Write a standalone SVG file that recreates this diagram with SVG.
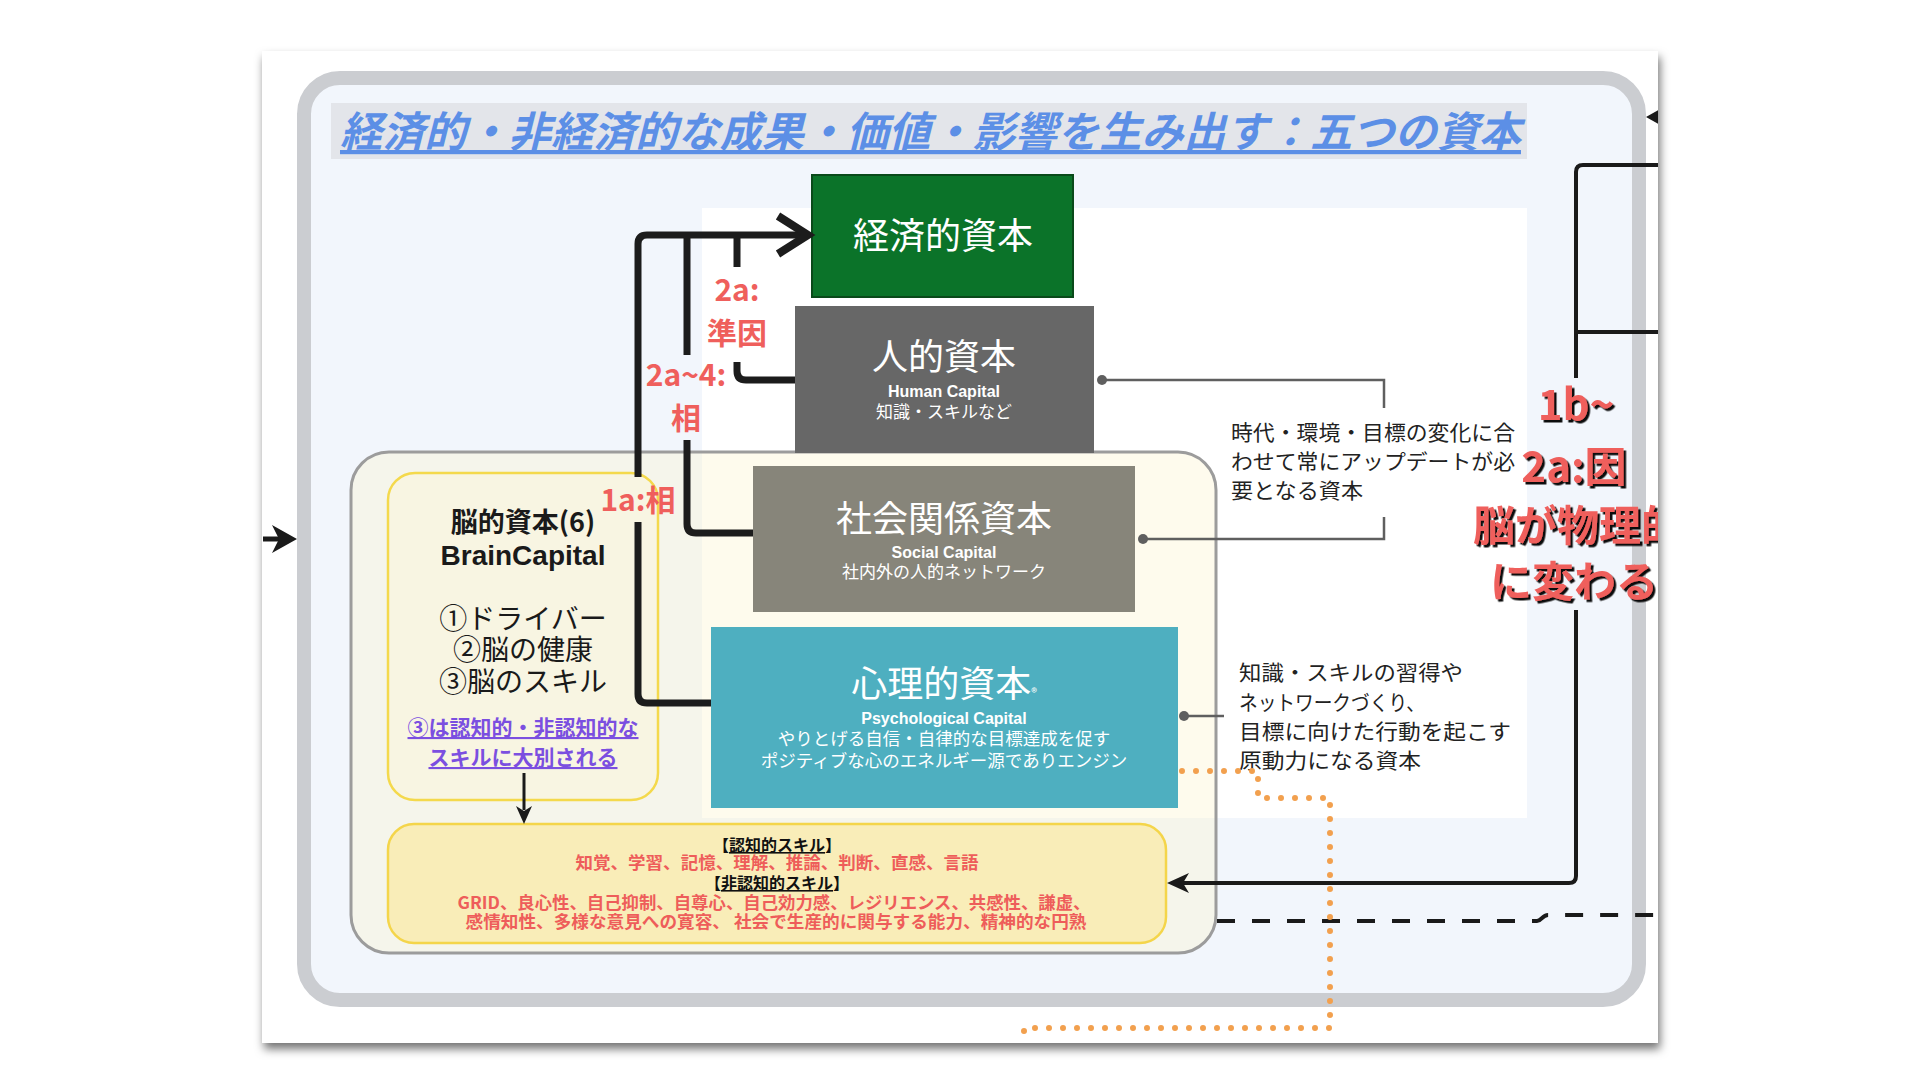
<svg xmlns="http://www.w3.org/2000/svg" width="1920" height="1080" viewBox="0 0 1920 1080">
<defs>
<style>
.jp{font-family:"Noto Sans CJK JP","Noto Sans",sans-serif}
.lat{font-family:"Liberation Sans","Noto Sans",sans-serif}
.mid{text-anchor:middle}
.wt{fill:#ffffff}
.capt{font-size:36px;font-weight:400}
.cape{font-size:16px;font-weight:700}
.capj{font-size:17.5px;font-weight:400}
.red{fill:#ef5f5c;font-weight:700}
.lbl{font-size:30px}
.big{font-size:42px}
.desc{font-size:21px;fill:#222222}
.sk{font-size:17px;font-weight:700}
.skh{fill:#111111;font-size:16px}
.skr{fill:#ee5d5a}
.thick{fill:none;stroke:#1c1c1c;stroke-width:7}
.thin{fill:none;stroke:#1a1a1a;stroke-width:4}
.gline{fill:none;stroke:#5f5f5f;stroke-width:2.5}
.gdot{fill:#5f5f5f}
</style>
<filter id="pageShadow" x="-5%" y="-5%" width="110%" height="115%">
<feDropShadow dx="2" dy="6" stdDeviation="5" flood-color="#000000" flood-opacity="0.55"/>
</filter>
<filter id="txtShadow" x="-10%" y="-10%" width="130%" height="140%">
<feDropShadow dx="2.5" dy="2.5" stdDeviation="0.6" flood-color="#000000" flood-opacity="0.95"/>
</filter>
<clipPath id="pageClip"><rect x="0" y="0" width="1658" height="1043"/></clipPath>
</defs>
<rect x="0" y="0" width="1920" height="1080" fill="#ffffff"/>
<rect id="page" x="262" y="51" width="1396" height="992" fill="#ffffff" filter="url(#pageShadow)"/>
<g clip-path="url(#pageClip)">
<g id="frame">
<rect x="304" y="78" width="1335" height="922" rx="36" fill="#f2f6fc" stroke="#cbcdd1" stroke-width="14"/>
</g>
<g id="title">
<rect x="331" y="103" width="1196" height="56" fill="#e3e5ea"/>
<text x="340" y="147" class="jp" font-size="42" font-weight="700" font-style="italic" fill="#5c8fe6" text-decoration="underline" textLength="1181" lengthAdjust="spacingAndGlyphs">経済的・非経済的な成果・価値・影響を生み出す：五つの資本</text>
</g>
<rect id="white-panel" x="702" y="208" width="825" height="610" fill="#ffffff"/>
<g id="container">
<rect x="351" y="452" width="865" height="501" rx="38" fill="#fdf3c8" fill-opacity="0.32" stroke="#9c9c9c" stroke-width="3"/>
</g>
<g id="node-brain">
<rect x="388" y="473" width="270" height="327" rx="27" fill="#f8f5e2" stroke="#f4d94c" stroke-width="2.5"/>
<text x="523" y="532" class="jp mid" font-size="27" font-weight="700" fill="#1a1a1a">脳的資本(6)</text>
<text x="523" y="565" class="lat mid" font-size="28" font-weight="700" fill="#1a1a1a">BrainCapital</text>
<text class="jp mid" font-size="28" fill="#1a1a1a"><tspan x="523" y="629">①ドライバー</tspan><tspan x="523" y="660">②脳の健康</tspan><tspan x="523" y="692">③脳のスキル</tspan></text>
<text class="jp mid" font-size="21" font-weight="700" fill="#7b4fe0" text-decoration="underline"><tspan x="523" y="735">③は認知的・非認知的な</tspan><tspan x="523" y="765">スキルに大別される</tspan></text>
</g>
<g id="node-skills">
<rect x="388" y="824" width="778" height="119" rx="26" fill="#f9edb8" stroke="#f4d54a" stroke-width="2.5"/>
<text class="jp mid sk"><tspan x="777" y="851" class="skh">【<tspan text-decoration="underline">認知的スキル</tspan>】</tspan><tspan x="777" y="869" class="skr" textLength="403" lengthAdjust="spacingAndGlyphs">知覚、学習、記憶、理解、推論、判断、直感、言語</tspan><tspan x="777" y="889" class="skh">【<tspan text-decoration="underline">非認知的スキル</tspan>】</tspan><tspan x="774" y="909" class="skr" textLength="633" lengthAdjust="spacingAndGlyphs">GRID、良心性、自己抑制、自尊心、自己効力感、レジリエンス、共感性、謙虚、</tspan><tspan x="776" y="928" class="skr" textLength="621" lengthAdjust="spacingAndGlyphs">感情知性、多様な意見への寛容、 社会で生産的に関与する能力、精神的な円熟</tspan></text>
</g>
<g id="node-economic">
<rect x="812" y="175" width="261" height="122" fill="#0b7329" stroke="#0a4a1a" stroke-width="2"/>
<text x="943" y="249" class="jp mid wt capt">経済的資本</text>
</g>
<g id="node-human">
<rect x="795" y="306" width="299" height="147" fill="#676767"/>
<text x="944" y="370" class="jp mid wt capt">人的資本</text>
<text x="944" y="397" class="lat mid wt cape">Human Capital</text>
<text x="944" y="418" class="jp mid wt" font-size="17">知識・スキルなど</text>
</g>
<g id="node-social">
<rect x="753" y="466" width="382" height="146" fill="#87857a"/>
<text x="944" y="532" class="jp mid wt capt">社会関係資本</text>
<text x="944" y="558" class="lat mid wt cape">Social Capital</text>
<text x="944" y="578" class="jp mid wt" font-size="17">社内外の人的ネットワーク</text>
</g>
<g id="node-psych">
<rect x="711" y="627" width="467" height="181" fill="#4eafc0"/>
<text x="944" y="697" class="jp mid wt capt">心理的資本<tspan font-size="12">®</tspan></text>
<text x="944" y="724" class="lat mid wt cape">Psychological Capital</text>
<text class="jp mid wt capj"><tspan x="944" y="745">やりとげる自信・自律的な目標達成を促す</tspan><tspan x="944" y="767">ポジティブな心のエネルギー源でありエンジン</tspan></text>
</g>
<g id="note-update">
<text class="jp desc"><tspan x="1231" y="440" textLength="284" lengthAdjust="spacingAndGlyphs">時代・環境・目標の変化に合</tspan><tspan x="1231" y="469" textLength="284" lengthAdjust="spacingAndGlyphs">わせて常にアップデートが必</tspan><tspan x="1231" y="498" textLength="132" lengthAdjust="spacingAndGlyphs">要となる資本</tspan></text>
</g>
<g id="note-motive">
<text class="jp desc" font-size="22.5"><tspan x="1239" y="680" textLength="224" lengthAdjust="spacingAndGlyphs">知識・スキルの習得や</tspan><tspan x="1239" y="710" textLength="186" lengthAdjust="spacingAndGlyphs">ネットワークづくり、</tspan><tspan x="1239" y="739" textLength="272" lengthAdjust="spacingAndGlyphs">目標に向けた行動を起こす</tspan><tspan x="1239" y="768" textLength="182" lengthAdjust="spacingAndGlyphs">原動力になる資本</tspan></text>
</g>
<g id="connectors">
<path class="gline" d="M1102 380 H1384 V408"/>
<path class="gline" d="M1143 539 H1384 V517"/>
<path class="gline" d="M1184 716 H1224"/>
<circle class="gdot" cx="1102" cy="380" r="5"/>
<circle class="gdot" cx="1143" cy="539" r="5"/>
<circle class="gdot" cx="1184" cy="716" r="5"/>
<path class="thick" d="M711 703 H647 Q638 703 638 694 V522"/>
<path class="thick" d="M638 477 V244 Q638 235 647 235 H804"/>
<polyline points="778,216 808,235 778,254" fill="none" stroke="#1c1c1c" stroke-width="8"/>
<path class="thick" d="M753 533 H696 Q687 533 687 524 V440"/>
<path class="thick" d="M687 355 V235"/>
<path class="thick" d="M795 380 H746 Q737 380 737 371 V362"/>
<path class="thick" d="M737 267 V235"/>
<path d="M524 773 V810" fill="none" stroke="#1a1a1a" stroke-width="3"/>
<path d="M524 824 L516 806 L524 811 L532 806 Z" fill="#1a1a1a"/>
<path d="M263 539 H286" fill="none" stroke="#1a1a1a" stroke-width="5"/>
<path d="M297 539 L272 525 L279 539 L272 553 Z" fill="#1a1a1a"/>
<path class="thin" d="M1665 165 H1583 Q1576 165 1576 172 V378"/>
<path class="thin" d="M1665 332 H1576"/>
<path d="M1646 117 L1662 108 L1662 126 Z" fill="#1a1a1a"/>
<path class="thin" d="M1576 610 V876 Q1576 883 1569 883 H1182"/>
<path d="M1167 883 L1189 873 L1183 883 L1189 893 Z" fill="#1a1a1a"/>
<path d="M1217 921 H1537 C1542 921 1542 915 1548 915 H1665" fill="none" stroke="#1a1a1a" stroke-width="4" stroke-dasharray="18 17"/>
<path d="M1182 771 H1258 V798 H1330 V1028 H1024 V1045" fill="none" stroke="#f2a04e" stroke-width="6" stroke-linecap="round" stroke-dasharray="0 14"/>
</g>
<g id="labels">
<text class="jp mid red lbl"><tspan x="737" y="301">2a:</tspan><tspan x="737" y="344">準因</tspan></text>
<text class="jp mid red lbl"><tspan x="686" y="386">2a~4:</tspan><tspan x="686" y="429">相</tspan></text>
<text x="638" y="511" class="jp mid red lbl">1a:相</text>
<g filter="url(#txtShadow)">
<text class="jp mid red big"><tspan x="1576" y="420">1b~</tspan><tspan x="1574" y="482">2a:因</tspan><tspan x="1578" y="541">脳が物理的</tspan><tspan x="1574" y="597">に変わる</tspan></text>
</g>
</g>
</g>
</svg>
